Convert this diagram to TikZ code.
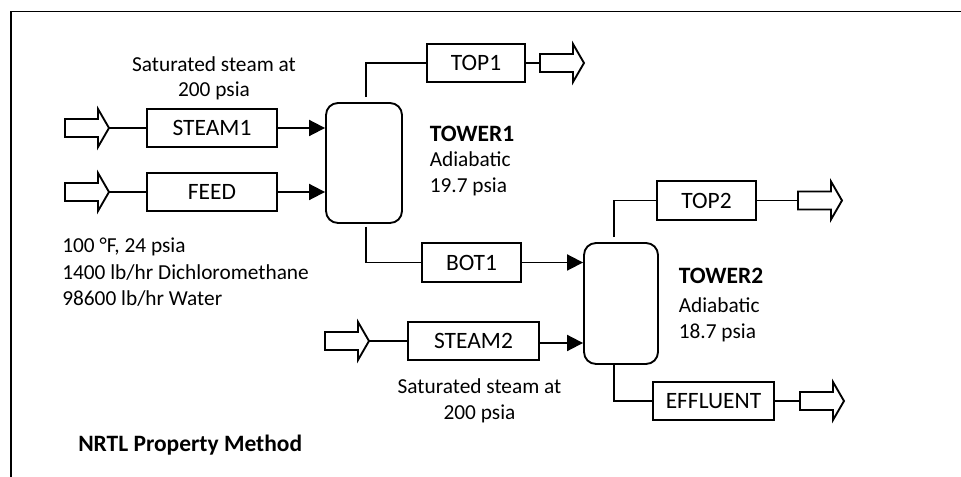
\documentclass[tikz,border=0pt]{standalone}
\usepackage{fontspec}
\setmainfont{Carlito}
\usetikzlibrary{arrows.meta}
\begin{document}
\begin{tikzpicture}[x=0.75pt,y=-0.75pt,
  every node/.style={font=\fontsize{17.6}{21}\selectfont, inner sep=0pt},
  box/.style={draw, line width=1.4pt, minimum height=28.5pt},
  tower/.style={draw, line width=1.4pt, rounded corners=9pt},
  pipe/.style={line width=1.4pt},
  feedpipe/.style={pipe, -{Triangle[length=12pt,width=12pt]}},
  lbl/.style={anchor=base west, font=\fontsize{16}{19}\selectfont},
  mid/.style={anchor=base, font=\fontsize{16}{19}\selectfont},
  hd/.style={anchor=base west, font=\fontsize{17.6}{21}\selectfont\bfseries},
  blockarrow/.pic={
    \draw[line width=1.4pt, line join=miter]
      (0,-9) -- (33,-9) -- (33,-19) -- (44,0) -- (33,19) -- (33,9) -- (0,9) -- cycle;
    \coordinate (-tail) at (0,0);
    \coordinate (-tip) at (44,0);
  }]
\clip (0,0) rectangle (961,477);
% outer frame
\draw[line width=1.2pt] (11,11.5) rectangle (990,500);

% towers
\node[tower, minimum width=57pt, minimum height=90pt] (tower1) at (364,163) {};
\node[tower, minimum width=55.5pt, minimum height=90.75pt] (tower2) at (621,303.5) {};

% stream blocks
\node[box, minimum width=97.5pt] (steam1) at (212,128) {STEAM1};
\node[box, minimum width=97.5pt] (feed) at (212,192) {FEED};
\node[box, minimum width=73.5pt] (top1) at (476,63) {TOP1};
\node[box, minimum width=74.25pt, minimum height=29.25pt] (bot1) at (471.5,262.5) {BOT1};
\node[box, minimum width=74.25pt, minimum height=29.25pt] (top2) at (706.5,200.5) {TOP2};
\node[box, minimum width=98.25pt] (steam2) at (473.5,341) {STEAM2};
\node[box, minimum width=90.75pt] (effluent) at (713.5,401) {EFFLUENT};

% feed and product block arrows
\pic (inS1) at (65,128) {blockarrow};
\pic (inF) at (65,192) {blockarrow};
\pic (inS2) at (325,341) {blockarrow};
\pic (outT1) at (540,63) {blockarrow};
\pic (outT2) at (798,200.5) {blockarrow};
\pic (outE) at (800,401) {blockarrow};

% connectors
\draw[pipe] (inS1-tip) -- (steam1.west);
\draw[pipe] (inF-tip) -- (feed.west);
\draw[pipe] (inS2-tip) -- (steam2.west);
\draw[feedpipe] (steam1.east) -- (steam1.east -| tower1.west);
\draw[feedpipe] (feed.east) -- (feed.east -| tower1.west);
\draw[pipe] ([xshift=1.5pt,yshift=3.75pt]tower1.north) |- (top1.west);
\draw[pipe] (top1.east) -- (outT1-tail);
\draw[pipe] ([xshift=1.5pt,yshift=-2pt]tower1.south) |- (bot1.west);
\draw[feedpipe] (bot1.east) -- (bot1.east -| tower2.west);
\draw[feedpipe] ([yshift=-1.5pt]steam2.east) -- ([yshift=-1.5pt]steam2.east -| tower2.west);
\draw[pipe] ([xshift=-5.5pt,yshift=3.75pt]tower2.north) |- (top2.west);
\draw[pipe] (top2.east) -- (outT2-tail);
\draw[pipe] ([xshift=-5pt]tower2.south) |- (effluent.west);
\draw[pipe] (effluent.east) -- (outE-tail);

% annotations
\node[mid] (st1a) at (214,71.5) {Saturated steam at};
\node[mid] (st1b) at (214,96.5) {200 psia};
\node[hd] (t1name) at (429.5,141.5) {TOWER1};
\node[lbl] (t1a) at (429.5,167) {Adiabatic};
\node[lbl] (t1b) at (429.5,193) {19.7 psia};
\node[lbl] (fd1) at (62,253) {100 °F, 24 psia};
\node[lbl] (fd2) at (62,280) {1400 lb/hr Dichloromethane};
\node[lbl] (fd3) at (62,306) {98600 lb/hr Water};
\node[hd] (t2name) at (678.5,283.5) {TOWER2};
\node[lbl] (t2a) at (678.5,312.5) {Adiabatic};
\node[lbl] (t2b) at (678.5,338.5) {18.7 psia};
\node[mid] (st2a) at (479.5,393.5) {Saturated steam at};
\node[mid] (st2b) at (479.5,420) {200 psia};
\node[hd] (prop) at (78,451.5) {NRTL Property Method};
\end{tikzpicture}
\end{document}
